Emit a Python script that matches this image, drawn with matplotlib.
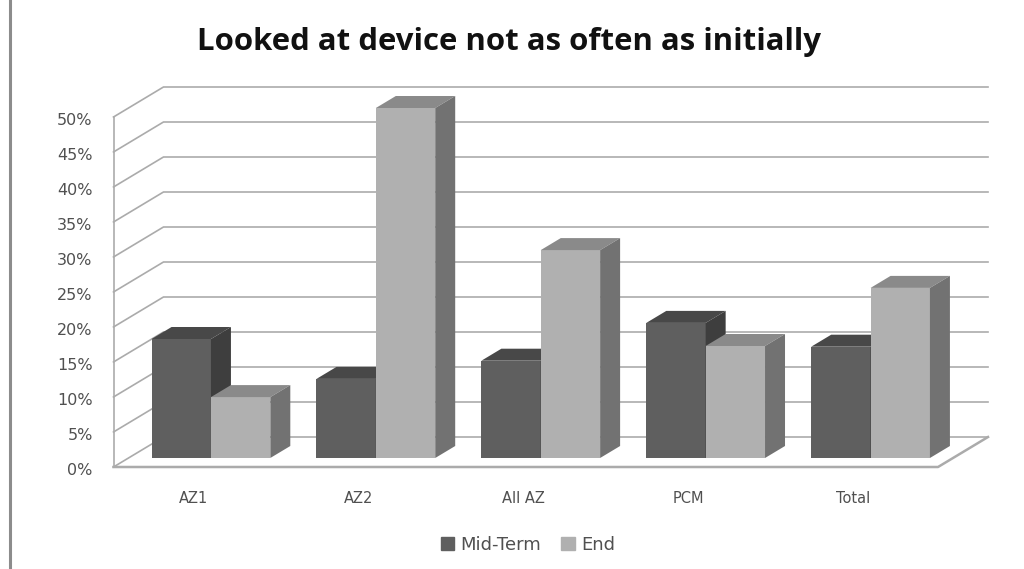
import matplotlib.pyplot as plt
from matplotlib.patches import Patch
from matplotlib.transforms import ScaledTranslation

plt.rcParams['font.family'] = 'DejaVu Sans'

categories = ['AZ1', 'AZ2', 'All AZ', 'PCM', 'Total']
mid_term = [17.0, 11.3, 13.9, 19.3, 15.9]
end = [8.7, 50.0, 29.7, 16.0, 24.3]
y_ticks = [0, 5, 10, 15, 20, 25, 30, 35, 40, 45, 50]

# full depth of the box in data units
DEPTH_X = 50 / 165
DEPTH_Y = 30 / 7
BAR_W = 0.36
GRID = '#ababab'


def draw_bar(ax, left, value, front, top, side):
    # bars start 30% into the floor and take up 40% of its depth
    x0 = left + 0.3 * DEPTH_X
    y0 = 0.3 * DEPTH_Y
    dx = 0.4 * DEPTH_X
    dy = 0.4 * DEPTH_Y
    ax.bar(x0, value, BAR_W, bottom=y0, align='edge', color=front, zorder=3, clip_on=False)
    y1 = y0 + value
    x1 = x0 + BAR_W
    ax.fill([x0, x1, x1 + dx, x0 + dx], [y1, y1, y1 + dy, y1 + dy], color=top, lw=0, zorder=3, clip_on=False)
    ax.fill([x1, x1 + dx, x1 + dx, x1], [y0, y0 + dy, y1 + dy, y1], color=side, lw=0, zorder=3, clip_on=False)


fig = plt.figure(figsize=(10.24, 5.69), dpi=100)
ax = fig.add_axes([113.5 / 1024, 102 / 569, 874.5 / 1024, 380 / 569])
ax.set_xlim(-0.5, 4.5 + DEPTH_X)
ax.set_ylim(0, 50 + DEPTH_Y)
for s in ax.spines.values():
    s.set_visible(False)

# walls and floor
for v in y_ticks:
    ax.plot([-0.5, -0.5 + DEPTH_X, 4.5 + DEPTH_X], [v, v + DEPTH_Y, v + DEPTH_Y],
            color=GRID, lw=1.2, zorder=1, clip_on=False)
ax.plot([-0.5, -0.5], [0, 50], color=GRID, lw=1.2, zorder=2, clip_on=False)
ax.plot([-0.5, 4.5, 4.5 + DEPTH_X], [0, 0, DEPTH_Y], color=GRID, lw=1.8, zorder=2, clip_on=False)

for i in range(len(categories)):
    draw_bar(ax, i - BAR_W, mid_term[i], '#5f5f5f', '#484848', '#3e3e3e')
    draw_bar(ax, i, end[i], '#b0b0b0', '#8a8a8a', '#727272')

# ticks
ax.set_yticks(y_ticks)
ax.set_yticklabels([str(v) + '%' for v in y_ticks])
ax.set_xticks(range(len(categories)))
ax.set_xticklabels(categories)
ax.tick_params(axis='y', length=0, pad=15, labelsize=11.5, labelcolor='#505050')
ax.tick_params(axis='x', length=0, pad=17, labelsize=10.5, labelcolor='#505050')
for lab in ax.get_yticklabels():
    lab.set_transform(lab.get_transform() + ScaledTranslation(0, -1.5 / 72, fig.dpi_scale_trans))
for lab in ax.get_xticklabels():
    lab.set_transform(lab.get_transform() + ScaledTranslation(-1.5 / 72, 0, fig.dpi_scale_trans))

handles = [Patch(color='#5f5f5f', label='Mid-Term'), Patch(color='#b0b0b0', label='End')]
fig.legend(handles=handles, loc='center', bbox_to_anchor=(528 / 1024, 1 - 545 / 569), ncol=2,
           frameon=False, fontsize=13, labelcolor='#505050', handlelength=0.75, handleheight=0.75,
           handletextpad=0.35, columnspacing=1.1)

fig.text(509 / 1024, 1 - 42 / 569, 'Looked at device not as often as initially',
         ha='center', va='center', fontsize=22.4, fontweight='bold', family='Open Sans', color='#111111')

# page border on the left
fig.add_artist(plt.Line2D([10 / 1024, 10 / 1024], [0, 1], color='#8c8c8c', lw=2.2))

fig.savefig('out.png', dpi=100)
